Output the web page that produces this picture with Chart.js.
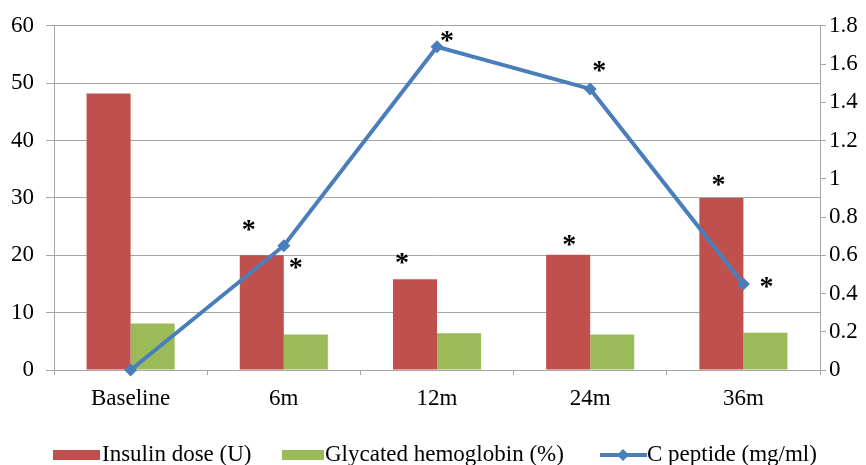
<!DOCTYPE html>
<html>
<head>
<meta charset="utf-8">
<script src="https://cdn.jsdelivr.net/npm/chart.js@4.4.1/dist/chart.umd.min.js"></script>
<style>
  html, body { margin: 0; padding: 0; background: #fff; }
  #wrap { width: 866px; height: 465px; }
</style>
</head>
<body>
<div id="wrap"><canvas id="myChart" width="866" height="465"></canvas></div>
<script>
// chart values
const categories = ["Baseline", "6m", "12m", "24m", "36m"];
const insulinDose = [48.2, 20, 15.8, 20.1, 30];
const glycatedHb = [8.1, 6.2, 6.4, 6.2, 6.5];
const cPeptide = [0, 0.65, 1.69, 1.47, 0.45];
const leftTicks = [0, 10, 20, 30, 40, 50, 60];
const rightTicks = [0, 0.2, 0.4, 0.6, 0.8, 1, 1.2, 1.4, 1.6, 1.8];

// significance marks: which dataset / point, and offset from it
const stars = [
  { ds: 0, i: 1, dx: -13, dy: -30 },
  { ds: 0, i: 2, dx: -13, dy: -21 },
  { ds: 0, i: 3, dx: 1, dy: -14 },
  { ds: 0, i: 4, dx: -3, dy: -17 },
  { ds: 2, i: 1, dx: 12, dy: 18 },
  { ds: 2, i: 2, dx: 10, dy: -10 },
  { ds: 2, i: 3, dx: 9, dy: -22 },
  { ds: 2, i: 4, dx: 23, dy: -1 },
];

const RED = "#C0504D";
const GREEN = "#9BBB59";
const BLUE = "#4A7EBB";
const GRID = "#A6A6A6";
const FONT = "'Liberation Serif', 'Times New Roman', serif";

// draws the asterisks and the legend row
const pluginExtras = {
  id: "extras",
  afterDatasetsDraw(chart) {
    const ctx = chart.ctx;
    ctx.save();
    ctx.fillStyle = "#000";
    ctx.font = "bold 28px " + FONT;
    ctx.textAlign = "center";
    ctx.textBaseline = "alphabetic";
    const m = ctx.measureText("*");
    const mid = (m.actualBoundingBoxAscent - m.actualBoundingBoxDescent) / 2;
    stars.forEach((s) => {
      const el = chart.getDatasetMeta(s.ds).data[s.i];
      ctx.fillText("*", el.x + s.dx, el.y + s.dy + mid);
    });
    ctx.restore();
  },
  afterDraw(chart) {
    const ctx = chart.ctx;
    const cy = 455;
    ctx.save();
    ctx.font = "23px " + FONT;
    ctx.fillStyle = "#000";
    ctx.textBaseline = "middle";
    ctx.textAlign = "left";

    ctx.fillStyle = RED;
    ctx.fillRect(53, cy - 5, 47, 10);
    ctx.fillStyle = "#000";
    ctx.fillText("Insulin dose (U)", 102, cy);

    ctx.fillStyle = GREEN;
    ctx.fillRect(282, cy - 5, 42, 10);
    ctx.fillStyle = "#000";
    ctx.fillText("Glycated hemoglobin (%)", 325, cy);

    ctx.strokeStyle = BLUE;
    ctx.lineWidth = 4;
    ctx.beginPath();
    ctx.moveTo(600, cy);
    ctx.lineTo(647, cy);
    ctx.stroke();
    ctx.fillStyle = BLUE;
    ctx.beginPath();
    ctx.moveTo(623, cy - 6);
    ctx.lineTo(629, cy);
    ctx.lineTo(623, cy + 6);
    ctx.lineTo(617, cy);
    ctx.closePath();
    ctx.fill();
    ctx.fillStyle = "#000";
    ctx.fillText("C peptide (mg/ml)", 647, cy);
    ctx.restore();
  },
};

const chartContext = document.getElementById("myChart").getContext("2d");

const chart = new Chart(chartContext, {
  type: "bar",
  data: {
    labels: categories,
    datasets: [
      {
        label: "Insulin dose (U)",
        data: insulinDose,
        backgroundColor: RED,
        yAxisID: "y",
        order: 2,
      },
      {
        label: "Glycated hemoglobin (%)",
        data: glycatedHb,
        backgroundColor: GREEN,
        yAxisID: "y",
        order: 2,
      },
      {
        type: "line",
        label: "C peptide (mg/ml)",
        data: cPeptide,
        borderColor: BLUE,
        backgroundColor: BLUE,
        borderWidth: 4,
        pointStyle: "rectRot",
        pointRadius: 6.5,
        pointBorderWidth: 0,
        fill: false,
        tension: 0,
        clip: false,
        yAxisID: "y1",
        order: 0,
      },
    ],
  },
  options: {
    responsive: false,
    animation: false,
    layout: { padding: { top: 25, left: 0, right: 0, bottom: 0 } },
    datasets: {
      bar: { categoryPercentage: 0.575, barPercentage: 1 },
    },
    plugins: {
      legend: { display: false },
      tooltip: { enabled: false },
    },
    scales: {
      x: {
        grid: {
          offset: true,
          drawOnChartArea: false,
          color: GRID,
          tickLength: 5,
        },
        border: { color: GRID },
        ticks: {
          color: "#000",
          font: { family: FONT, size: 23 },
          padding: 10,
        },
        afterFit(scale) {
          scale.height = 95;
        },
      },
      y: {
        position: "left",
        min: 0,
        max: 60,
        afterBuildTicks(scale) {
          scale.ticks = leftTicks.map((v) => ({ value: v }));
        },
        grid: { color: GRID, tickLength: 8 },
        border: { color: GRID },
        ticks: {
          color: "#000",
          font: { family: FONT, size: 23 },
          padding: 12,
        },
        afterFit(scale) {
          scale.width = 54;
        },
      },
      y1: {
        position: "right",
        min: 0,
        max: 1.8,
        afterBuildTicks(scale) {
          scale.ticks = rightTicks.map((v) => ({ value: v }));
        },
        grid: { drawOnChartArea: false, color: GRID, tickLength: 6 },
        border: { color: GRID },
        ticks: {
          color: "#000",
          font: { family: FONT, size: 23 },
          padding: 3,
          callback: (v) => String(Math.round(v * 10) / 10),
        },
        afterFit(scale) {
          scale.width = 46;
        },
      },
    },
  },
  plugins: [pluginExtras],
});
</script>
</body>
</html>
